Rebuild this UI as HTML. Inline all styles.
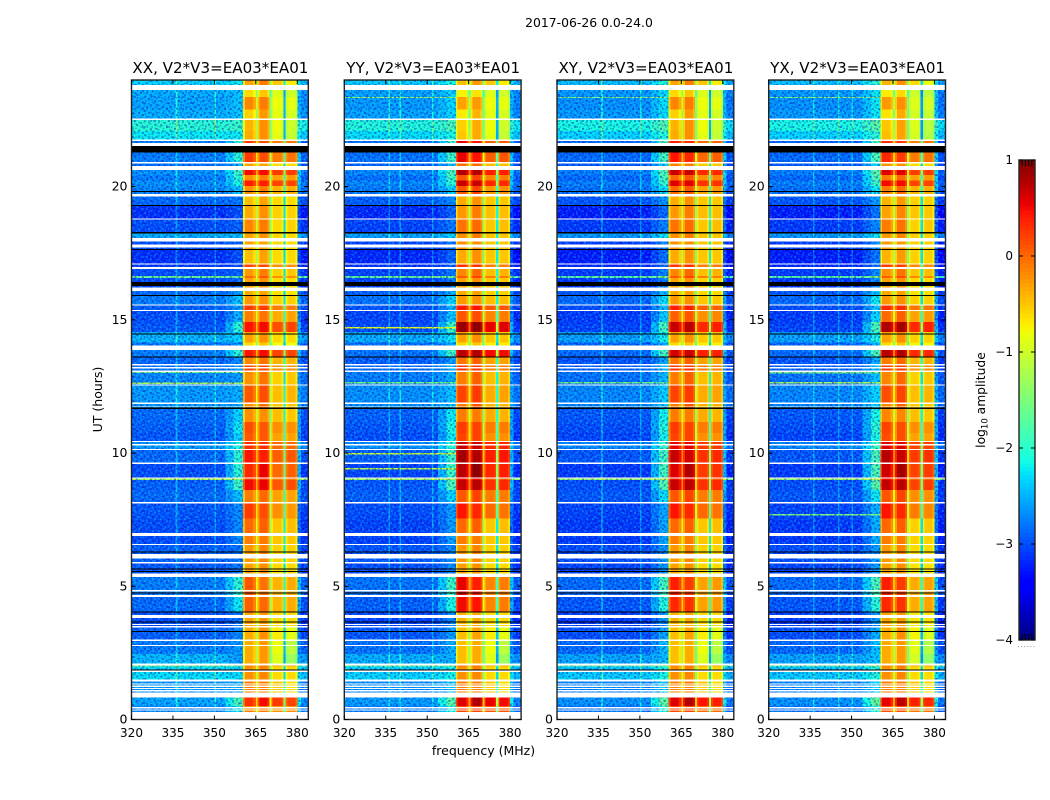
<!DOCTYPE html>
<html lang="en">
<head>
<meta charset="utf-8">
<title>2017-06-26 0.0-24.0</title>
<style>
html,body{margin:0;padding:0;background:#fff;width:1050px;height:800px;overflow:hidden}
svg{display:block}
text{font-family:"DejaVu Sans","Liberation Sans",sans-serif;fill:#000}
</style>
</head>
<body>
<svg id="figure" xmlns="http://www.w3.org/2000/svg" width="1050" height="800" viewBox="0 0 1050 800">
  <defs>
    <pattern id="noiseTile" width="24" height="24" patternUnits="userSpaceOnUse">
      <g fill="#0000b0" fill-opacity="0.3">
        <rect x="0" y="0" width="2" height="2"/><rect x="6" y="0" width="2" height="2"/><rect x="14" y="0" width="2" height="2"/><rect x="10" y="0" width="2" height="2"/>
        <rect x="20" y="2" width="2" height="2"/><rect x="4" y="2" width="2" height="2"/><rect x="10" y="4" width="2" height="2"/><rect x="16" y="4" width="2" height="2"/>
        <rect x="0" y="6" width="2" height="2"/><rect x="22" y="6" width="2" height="2"/><rect x="6" y="8" width="2" height="2"/><rect x="12" y="8" width="2" height="2"/>
        <rect x="18" y="10" width="2" height="2"/><rect x="2" y="10" width="2" height="2"/><rect x="8" y="12" width="2" height="2"/><rect x="14" y="12" width="2" height="2"/>
        <rect x="22" y="12" width="2" height="2"/><rect x="0" y="14" width="2" height="2"/><rect x="4" y="16" width="2" height="2"/><rect x="12" y="16" width="2" height="2"/>
        <rect x="18" y="16" width="2" height="2"/><rect x="8" y="18" width="2" height="2"/><rect x="22" y="18" width="2" height="2"/><rect x="20" y="20" width="2" height="2"/>
        <rect x="2" y="20" width="2" height="2"/><rect x="14" y="20" width="2" height="2"/><rect x="6" y="22" width="2" height="2"/><rect x="16" y="22" width="2" height="2"/>
      </g>
      <g fill="#19d9ff" fill-opacity="0.25">
        <rect x="2" y="0" width="2" height="2"/><rect x="18" y="0" width="2" height="2"/><rect x="8" y="2" width="2" height="2"/><rect x="14" y="2" width="2" height="2"/>
        <rect x="0" y="4" width="2" height="2"/><rect x="20" y="4" width="2" height="2"/><rect x="6" y="6" width="2" height="2"/><rect x="14" y="6" width="2" height="2"/>
        <rect x="10" y="8" width="2" height="2"/><rect x="22" y="8" width="2" height="2"/><rect x="4" y="12" width="2" height="2"/><rect x="18" y="12" width="2" height="2"/>
        <rect x="10" y="14" width="2" height="2"/><rect x="16" y="14" width="2" height="2"/><rect x="2" y="16" width="2" height="2"/><rect x="22" y="16" width="2" height="2"/>
        <rect x="6" y="18" width="2" height="2"/><rect x="14" y="18" width="2" height="2"/><rect x="0" y="20" width="2" height="2"/><rect x="10" y="22" width="2" height="2"/>
        <rect x="20" y="22" width="2" height="2"/>
      </g>
    </pattern>
    <pattern id="noiseTileAlt" href="#noiseTile" patternTransform="rotate(90) scale(0.73 0.81) translate(5 3)"></pattern>
  </defs>
  <text x="589" y="27" font-size="12.4" text-anchor="middle">2017-06-26 0.0-24.0</text>
  <text x="483.5" y="755" font-size="12.5" text-anchor="middle">frequency (MHz)</text>
  <text x="102" y="399.5" font-size="12.5" text-anchor="middle" transform="rotate(-90 102 399.5)">UT (hours)</text>
  <text x="985" y="400" font-size="12.3" text-anchor="middle" transform="rotate(-90 985 400)">log<tspan font-size="8.5" dy="2.5">10</tspan><tspan dy="-2.5"> amplitude</tspan></text>
  <g id="panels"></g>
  <g id="colorbar"></g>
</svg>
<script>
// ---- Categories and tick labels ----
const panelTitles = ['XX, V2*V3=EA03*EA01', 'YY, V2*V3=EA03*EA01', 'XY, V2*V3=EA03*EA01', 'YX, V2*V3=EA03*EA01'];
const freqTicks = [320, 335, 350, 365, 380];
const hourTicks = [0, 5, 10, 15, 20];
const colorbarTicks = [1, 0, -1, -2, -3, -4];

// ---- Time bands: hour edges from 24 UT down to 0 UT ----
const bandEdges = [24.00,23.63,23.37,22.90,22.50,22.08,21.72,20.92,20.63,20.43,
  20.23,20.02,19.62,19.27,18.81,18.29,17.94,17.63,17.07,16.98,
  16.64,16.57,16.22,15.92,15.54,15.33,14.92,14.54,14.14,13.86,
  13.63,13.34,13.04,12.54,11.89,11.66,11.17,10.75,10.41,10.11,
  9.59,9.09,8.99,8.61,8.11,7.55,6.89,6.55,5.85,5.35,
  4.68,4.01,3.46,3.01,2.45,2.11,1.98,1.51,0.82,0.50,0];

// ---- log10 amplitude per band, XX baseline ----
const bgLevel = [-2.3,-2.5,-2.55,-2.5,-2.0,-2.2,-2.75,-2.8,-2.65,-2.75,
  -2.65,-2.7,-2.85,-3.15,-3.0,-2.5,-3.0,-3.15,-3.1,-3.0,
  -1.6,-3.0,-2.85,-2.75,-2.9,-3.0,-2.95,-2.45,-2.8,-2.75,
  -2.85,-2.8,-2.7,-2.6,-2.6,-2.85,-2.9,-2.95,-2.6,-2.85,
  -3.0,-1.2,-2.9,-2.85,-2.95,-3.0,-3.0,-2.9,-2.95,-2.75,
  -2.85,-3.0,-2.9,-2.75,-2.45,-1.5,-2.25,-2.6,-2.55,-2.7];
const kneeLevel = [-2.2,-2.4,-2.4,-2.4,-1.9,-2.2,-2.0,-2.5,-1.9,-2.0,
  -2.1,-2.4,-2.8,-3.0,-2.9,-2.4,-2.9,-3.0,-3.0,-2.9,
  -1.6,-2.9,-2.6,-2.4,-2.6,-2.5,-2.0,-2.3,-2.7,-2.0,
  -2.7,-2.6,-2.6,-2.5,-2.5,-2.3,-2.2,-2.3,-2.1,-2.0,
  -2.0,-1.2,-1.9,-2.4,-2.7,-2.7,-2.7,-2.8,-2.8,-2.0,
  -2.2,-2.8,-2.7,-2.6,-2.6,-1.5,-2.25,-2.5,-1.8,-2.2];
const blockA = [-0.3,-0.6,-0.15,-0.55,-0.4,-0.35,0.25,-0.3,0.5,-0.2,
  0.4,-0.2,-0.45,-0.35,-0.15,-0.3,-0.3,-0.45,0.2,-0.25,
  0,-0.3,-0.35,-0.25,0.25,-0.1,0.45,-0.3,-0.6,0.45,
  -0.15,0.2,-0.2,0.1,-0.2,-0.2,0.15,0.1,0.3,0.45,
  0.35,0.3,0.5,-0.1,0.25,0,-0.1,-0.25,-0.3,0.1,
  0.05,-0.3,-0.35,-0.35,-0.35,-0.1,-0.2,-0.1,0.3,-0.1];
const blockB = [-0.1,-0.5,-0.1,-0.25,-0.2,-0.2,0.15,-0.3,0.5,-0.1,
  0.4,-0.1,-0.3,-0.2,-0.1,-0.2,-0.3,-0.3,0.2,-0.1,
  0.1,-0.2,-0.3,-0.2,0.25,-0.05,0.5,-0.2,-0.5,0.5,
  -0.05,0.2,-0.05,0.15,0,-0.2,0.1,0.1,0.3,0.4,
  0.55,0.3,0.55,0,0.15,0.05,-0.1,-0.15,-0.2,-0.05,
  0,-0.25,-0.2,-0.25,-0.25,0,-0.15,-0.1,0.5,-0.1];
const blockC = [-0.5,-0.9,-0.8,-0.85,-0.8,-0.85,-0.1,-0.6,0.25,-0.3,
  0.2,-0.4,-0.6,-0.55,-0.6,-0.6,-0.6,-0.6,-0.2,-0.55,
  -0.2,-0.6,-0.65,-0.55,-0.1,-0.35,0.15,-0.6,-0.8,0.2,
  -0.4,-0.2,-0.55,-0.45,-0.5,-0.45,-0.2,-0.3,0,0.05,
  0,-0.1,0.1,-0.3,-0.2,-0.5,-0.5,-0.55,-0.6,-0.4,
  -0.4,-0.6,-0.7,-0.8,-0.9,-0.3,-0.6,-0.5,0.25,-0.2];
const blockD = [-0.7,-1.0,-0.85,-0.95,-1.0,-1.05,-0.05,-0.6,0.25,-0.25,
  0.2,-0.35,-0.6,-0.55,-0.55,-0.6,-0.6,-0.6,-0.2,-0.5,
  -0.2,-0.6,-0.65,-0.55,-0.1,-0.3,0.2,-0.6,-0.8,0.2,
  -0.4,-0.2,-0.5,-0.4,-0.5,-0.5,-0.2,-0.3,0,0.1,
  0.05,-0.1,0.15,-0.3,-0.25,-0.45,-0.5,-0.55,-0.6,-0.35,
  -0.35,-0.6,-0.85,-1.1,-1.3,-0.3,-0.6,-0.6,0.2,-0.2];

// ---- Per-polarisation differences, by time zone ----
const zoneEdges = [24,21.7,19.8,16.6,15.5,14.9,14.5,13.8,13.6,10.4,9.1,7.5,5.35,4.0,2.1,0.82,0];
const xxInnerBoost = [0,0,0,0,0,0,0,0,0,0,0,0,0,0,0,0];
const xxOuterBoost = [0,0,0,0,0,0,0,0,0,0,0,0,0,0,0,0];
const yyInnerBoost = [-0.15,0.3,0.1,0,0.2,0.45,0,0.3,0.1,0.4,0.2,0,0.45,-0.1,0,0.3];
const yyOuterBoost = [0,0.15,0.1,0.1,0.2,0.4,0.1,0.3,0.1,0.35,0.2,0,0.25,0,0,0.3];
const xyInnerBoost = [0,0.2,0.1,0,0.15,0.25,0,0.2,0.1,0.25,0.2,0,0.3,-0.1,0,0.3];
const xyOuterBoost = [0,0.1,0.1,0.05,0.15,0.2,0.1,0.2,0.1,0.25,0.2,0,0.1,0,0,0.2];
const yxInnerBoost = [-0.1,0.1,0.05,0,0.1,0.35,0,0.3,0.05,0.3,0.2,0,0.3,0,0,0.25];
const yxOuterBoost = [-0.1,0,0.05,0,0.05,0.2,0.05,0.15,0,0.2,0.1,-0.05,0.05,-0.05,0,0.15];
const panelBgShift = [0,-0.05,-0.1,-0.1];
const panelKneeShift = [0,0.1,0.15,0.2];

// ---- Frequency columns (MHz) ----
const columnEdges = [320,336,336.6,340,340.6,345,345.6,350,350.6,351.7,352.3,354,357,360.4,361,364,365,365.7,366.4,369.3,370,370.7,371.3,374.3,375,375.8,376.4,379.3,380,381.3,384];
const columnSource = ['bg','bg','bg','bg','bg','bg','bg','bg','bg','bg','bg','mix','knee','a','a','a','a','b','b','b','b','c','c','c','c','d','d','d','mix','bg'];
const columnOffset = [0,0,0,0,0,0,0,0,0,0,0,0,0,-0.4,0,-0.2,-0.9,-0.35,0,-0.2,-1.3,-0.2,0,-0.15,-1.7,-0.2,0,-0.2,0,-0.15];
const spurFreqs = [[336,350],[336,340,351.7],[336,350],[336,345,350]];

// ---- Flagged samples (UT hours): white = missing, black = zero ----
const whiteGapTop = [23.81,22.56,21.77,21.64,20.92,20.77,19.72,18.81,18.07,17.82,17.12,16.98,16.22,15.58,15.37,14.04,13.34,13.23,13.09,12.58,11.89,11.77,10.46,10.33,10.15,9.65,9.09,8.17,6.99,6.59,6.22,5.91,5.47,4.86,4.68,3.92,3.59,3.51,3.01,2.80,2.11,1.83,1.51,1.36,1.27,1.18,1.10,1.01,0.46,0.37,0.29];
const whiteGapBottom = [23.63,22.50,21.72,21.53,20.87,20.63,19.62,18.77,17.94,17.72,17.07,16.90,16.08,15.54,15.33,13.86,13.29,13.18,13.04,12.54,11.84,11.74,10.41,10.29,10.11,9.59,9.04,8.11,6.89,6.55,6.05,5.85,5.35,4.81,4.60,3.80,3.55,3.46,2.95,2.76,2.02,1.79,1.43,1.31,1.22,1.14,1.05,0.82,0.42,0.33,0];
const blackLineTop = [21.53,19.83,19.30,18.29,17.65,16.42,15.94,14.49,13.63,11.71,6.30,5.67,5.57,4.76,4.05,3.68,3.32,1.88];
const blackLineBottom = [21.27,19.79,19.27,18.23,17.63,16.27,15.92,14.45,13.60,11.66,6.26,5.64,5.53,4.74,4.01,3.65,3.28,1.83];

// ---- Narrow bright interference lines, per panel ----
const lineHours = [[13.05,12.64],[23.37,14.73,12.66,10.0,9.44],[12.66,23.37],[13.04,12.66,7.71,23.37]];
const lineLevels = [[-1.5,-1.2],[-1.4,-0.8,-1.5,-1.0,-1.1],[-1.5,-1.5],[-1.5,-1.2,-1.5,-1.5]];

// ---- Layout ----
const NS = 'http://www.w3.org/2000/svg';
const panelLefts = [131.5, 344.3, 557, 768.7];
const panelWidth = 176.8;
const plotTop = 80, plotBottom = 719.5;
const cbarLeft = 1019, cbarRight = 1035, cbarTop = 160, cbarBottom = 640;

function xScale(p, mhz) { return panelLefts[p] + (mhz - 320) / 64 * panelWidth; }
function yScale(h) { return plotBottom - h / 24 * (plotBottom - plotTop); }
function cbarScale(v) { return cbarBottom - (v + 4) / 5 * (cbarBottom - cbarTop); }

function ramp(stops, f) {
  for (let i = 1; i < stops.length; i++) {
    if (f <= stops[i][0]) {
      const a = stops[i - 1], b = stops[i];
      return a[1] + (b[1] - a[1]) * (f - a[0]) / (b[0] - a[0]);
    }
  }
  return stops[stops.length - 1][1];
}
const jetR = [[0,0],[0.35,0],[0.66,1],[0.89,1],[1,0.5]];
const jetG = [[0,0],[0.125,0],[0.375,1],[0.64,1],[0.91,0],[1,0]];
const jetB = [[0,0.5],[0.11,1],[0.34,1],[0.65,0],[1,0]];
function jet(v) {
  const f = Math.max(0, Math.min(1, (v + 4) / 5));
  return 'rgb(' + Math.round(ramp(jetR, f) * 255) + ',' + Math.round(ramp(jetG, f) * 255) + ',' + Math.round(ramp(jetB, f) * 255) + ')';
}

function shape(parent, tag, attrs) {
  const el = document.createElementNS(NS, tag);
  for (const k in attrs) el.setAttribute(k, attrs[k]);
  parent.appendChild(el);
  return el;
}

function zoneIndex(h) {
  for (let z = 0; z < zoneEdges.length - 1; z++) {
    if (h <= zoneEdges[z] && h > zoneEdges[z + 1]) return z;
  }
  return zoneEdges.length - 2;
}

const innerBoost = [xxInnerBoost, yyInnerBoost, xyInnerBoost, yxInnerBoost];
const outerBoost = [xxOuterBoost, yyOuterBoost, xyOuterBoost, yxOuterBoost];

function cellValue(p, i, j) {
  const mid = (bandEdges[i] + bandEdges[i + 1]) / 2;
  const z = zoneIndex(mid);
  const src = columnSource[j];
  const bg = bgLevel[i] + panelBgShift[p];
  const knee = kneeLevel[i] + panelKneeShift[p];
  let v;
  if (src === 'bg') {
    v = bg;
    if (spurFreqs[p].indexOf(columnEdges[j]) >= 0) v += 0.45;
  } else if (src === 'knee') v = knee;
  else if (src === 'mix') v = (bg + knee) / 2;
  else if (src === 'a') v = blockA[i] + innerBoost[p][z];
  else if (src === 'b') v = blockB[i] + innerBoost[p][z];
  else if (src === 'c') v = blockC[i] + outerBoost[p][z];
  else v = blockD[i] + outerBoost[p][z];
  return v + columnOffset[j];
}

const panelsRoot = document.getElementById('panels');
const polNames = ['xx', 'yy', 'xy', 'yx'];

panelTitles.forEach(function (title, p) {
  const g = shape(panelsRoot, 'g', {});
  
  
  const heat = shape(g, 'g', { 'shape-rendering': 'crispEdges' });
  
  

  for (let i = 0; i < bandEdges.length - 1; i++) {
    for (let j = 0; j < columnEdges.length - 1; j++) {
      const x0 = xScale(p, columnEdges[j]), x1 = xScale(p, columnEdges[j + 1]);
      const y0 = yScale(bandEdges[i]), y1 = yScale(bandEdges[i + 1]);
      const cell = shape(heat, 'rect', { x: x0, y: y0, width: x1 - x0, height: y1 - y0, fill: jet(cellValue(p, i, j)) });
      
      
    }
  }
  lineHours[p].forEach(function (h, k) {
    const streak = shape(heat, 'rect', { x: xScale(p, 320), y: yScale(h), width: xScale(p, 360.4) - xScale(p, 320), height: 1.4, fill: jet(lineLevels[p][k]) });
    
    
  });
  ['url(#noiseTile)', 'url(#noiseTileAlt)'].forEach(function (tile) {
    const noiseLow = shape(heat, 'rect', { x: xScale(p, 320), y: plotTop, width: xScale(p, 360.4) - xScale(p, 320), height: plotBottom - plotTop, fill: tile });
    
    
    const noiseHigh = shape(heat, 'rect', { x: xScale(p, 380), y: plotTop, width: xScale(p, 384) - xScale(p, 380), height: plotBottom - plotTop, fill: tile });
    
    
  });
  whiteGapTop.forEach(function (t, k) {
    const gap = shape(heat, 'rect', { x: xScale(p, 320), y: yScale(t), width: panelWidth, height: yScale(whiteGapBottom[k]) - yScale(t), fill: '#fff' });
    
    
  });
  blackLineTop.forEach(function (t, k) {
    const line = shape(heat, 'rect', { x: xScale(p, 320), y: yScale(t), width: panelWidth, height: Math.max(1, yScale(blackLineBottom[k]) - yScale(t)), fill: '#000' });
    
    
  });

  const frame = shape(g, 'rect', { x: panelLefts[p], y: plotTop, width: panelWidth, height: plotBottom - plotTop, fill: 'none', stroke: '#222', 'stroke-width': 1.4 });
  
  

  freqTicks.forEach(function (f) {
    const x = xScale(p, f);
    const tb = shape(g, 'line', { x1: x, x2: x, y1: plotBottom, y2: plotBottom - 4, stroke: '#000', 'stroke-width': 1 });
    
    
    const tt = shape(g, 'line', { x1: x, x2: x, y1: plotTop, y2: plotTop + 4, stroke: '#000', 'stroke-width': 1 });
    
    
    const lab = shape(g, 'text', { x: x, y: 737, 'font-size': 12, 'text-anchor': 'middle' });
    
    
    lab.textContent = String(f);
  });
  hourTicks.forEach(function (h) {
    const y = yScale(h);
    const tl = shape(g, 'line', { x1: panelLefts[p], x2: panelLefts[p] + 4, y1: y, y2: y, stroke: '#000', 'stroke-width': 1 });
    
    
    const tr = shape(g, 'line', { x1: panelLefts[p] + panelWidth, x2: panelLefts[p] + panelWidth - 4, y1: y, y2: y, stroke: '#000', 'stroke-width': 1 });
    
    
    const lab = shape(g, 'text', { x: panelLefts[p] - 4, y: y + 4, 'font-size': 12.5, 'text-anchor': 'end' });
    
    
    lab.textContent = String(h);
  });
  const ttl = shape(g, 'text', { x: panelLefts[p] + panelWidth / 2 + 0.5, y: 73, 'font-size': 15.1, 'text-anchor': 'middle' });
  
  
  ttl.textContent = title;
});

// ---- Colorbar ----
const cbar = document.getElementById('colorbar');
const cbarRamp = shape(cbar, 'g', { 'shape-rendering': 'crispEdges' });


for (let v = -4; v < 1; v += 0.04) {
  const s = shape(cbarRamp, 'rect', { x: cbarLeft, y: cbarScale(v + 0.04) , width: cbarRight - cbarLeft, height: cbarScale(v) - cbarScale(v + 0.04) + 0.5, fill: jet(v + 0.02) });
  
  
}
const cbarFrame = shape(cbar, 'rect', { x: cbarLeft, y: cbarTop, width: cbarRight - cbarLeft, height: cbarBottom - cbarTop, fill: 'none', stroke: '#222', 'stroke-width': 1.4 });


colorbarTicks.forEach(function (v) {
  const y = cbarScale(v);
  const a = shape(cbar, 'line', { x1: cbarLeft, x2: cbarLeft + 4, y1: y, y2: y, stroke: '#000', 'stroke-width': 1 });
  
  
  const b = shape(cbar, 'line', { x1: cbarRight, x2: cbarRight - 4, y1: y, y2: y, stroke: '#000', 'stroke-width': 1 });
  
  
  const lab = shape(cbar, 'text', { x: 1013, y: y + 4, 'font-size': 12, 'text-anchor': 'end' });
  
  
  lab.textContent = v < 0 ? '\u2212' + Math.abs(v) : String(v);
});
for (let k = 1; k < 5; k++) {
  const x = cbarLeft + k * (cbarRight - cbarLeft) / 5;
  const t = shape(cbar, 'line', { x1: x, x2: x, y1: cbarTop, y2: cbarTop + 6, stroke: '#000', 'stroke-width': 1 });
  
  
  const u = shape(cbar, 'line', { x1: x, x2: x, y1: cbarBottom, y2: cbarBottom - 6, stroke: '#000', 'stroke-width': 1 });
  
  
}
for (let k = 0; k < 6; k++) {
  const d = shape(cbar, 'rect', { x: 1018 + k * 3.1, y: 646, width: 1, height: 1, fill: '#999' });
  
  
}
</script>
</body>
</html>
